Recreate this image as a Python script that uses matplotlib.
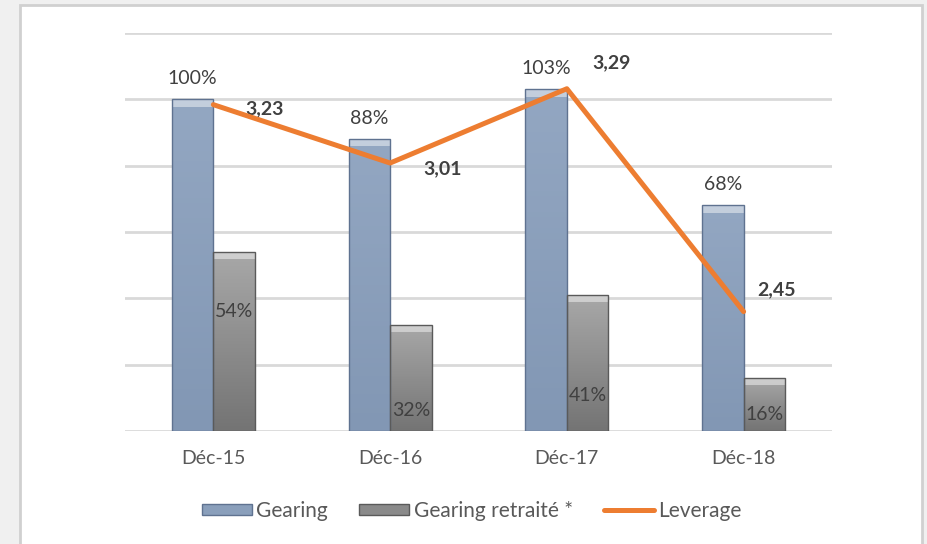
import numpy as np
import matplotlib

matplotlib.use("Agg")
import matplotlib.pyplot as plt
from matplotlib.patches import Rectangle, Patch
from matplotlib.lines import Line2D

plt.rcParams["font.family"] = ["Lato", "DejaVu Sans"]

periods = ["Déc-15", "Déc-16", "Déc-17", "Déc-18"]
gearing = [100, 88, 103, 68]
gearing_retraite = [54, 32, 41, 16]
leverage = [3.23, 3.01, 3.29, 2.45]

# hauteur des étiquettes "retraité" dans la barre (en %)
retraite_label_y = [36, 6.3, 10.8, 5]
# décalage des étiquettes leverage (points)
lev_offsets = [(37, -3), (38, -4), (32, 19), (24, 16)]

TXT = "#404040"
ORANGE = "#ed7d31"


def gradient_bar(ax, patch, top, bottom):
    x0, y0 = patch.get_x(), patch.get_y()
    w, h = patch.get_width(), patch.get_height()
    c1 = np.array(matplotlib.colors.to_rgb(top))
    c2 = np.array(matplotlib.colors.to_rgb(bottom))
    t = np.linspace(0, 1, 64)[:, None]
    img = (c1 * (1 - t) + c2 * t)[:, None, :]
    im = ax.imshow(img, extent=(x0, x0 + w, y0, y0 + h), aspect="auto",
                   origin="upper", zorder=2)
    im.set_clip_path(patch)
    patch.set_facecolor("none")
    # petit biseau clair en haut
    ax.add_patch(Rectangle((x0, y0 + h - 2.2), w, 2.2, facecolor="white",
                           alpha=0.45, edgecolor="none", zorder=3))


fig = plt.figure(figsize=(9.27, 5.44), dpi=100)
fig.patch.set_facecolor("#f0f0f0")
fig.add_artist(Rectangle((0.0216, -0.02), 0.973, 1.0108, transform=fig.transFigure,
                         facecolor="white", edgecolor="#d0d0d0", lw=2, zorder=0))

ax = fig.add_axes([0.1348, 0.2077, 0.7627, 0.7316])
ax.set_facecolor("none")
x = np.arange(len(periods))
w = 0.235

b1 = ax.bar(x - w / 2, gearing, w, edgecolor="#5f7290", lw=1, zorder=4)
b2 = ax.bar(x + w / 2, gearing_retraite, w, edgecolor="#5a5a5a", lw=1, zorder=4)
for p in b1:
    gradient_bar(ax, p, "#93a7c2", "#8297b4")
for p in b2:
    gradient_bar(ax, p, "#a8a8a8", "#747474")

ax.set_ylim(0, 120)
ax.set_xlim(-0.5, len(periods) - 0.5)
ax.set_yticks(np.arange(0, 121, 20))
ax.yaxis.grid(True, color="#d9d9d9", lw=2)
ax.set_axisbelow(True)
ax.set_xticks(x)
ax.set_xticklabels(periods)
for s in ax.spines.values():
    s.set_visible(False)

for i, v in enumerate(gearing):
    ax.annotate(f"{v}%", (x[i] - w / 2, v), xytext=(0, 9), textcoords="offset points",
                ha="center", va="bottom", fontsize=14, color=TXT)
for i, v in enumerate(gearing_retraite):
    ax.text(x[i] + w / 2, retraite_label_y[i], f"{v}%", ha="center", va="center",
            fontsize=14, color=TXT, zorder=6)

ax2 = ax.twinx()
ax2.set_ylim(2.0, 3.5)
ax2.axis("off")
ax2.plot(x, leverage, color=ORANGE, lw=3.6, solid_capstyle="round", zorder=5)
for i, v in enumerate(leverage):
    ax2.annotate(f"{v:.2f}".replace(".", ","), (x[i], v), xytext=lev_offsets[i],
                 textcoords="offset points", ha="center", va="center",
                 fontsize=14, fontweight="bold", color=TXT)

# twinx remet les graduations à gauche : on les coupe après
ax.tick_params(axis="y", left=False, right=False, labelleft=False)
ax.tick_params(axis="x", length=0, pad=14, labelsize=14, labelcolor="#595959")

handles = [
    Patch(facecolor="#8a9fbb", edgecolor="#5f7290"),
    Patch(facecolor="#8a8a8a", edgecolor="#5a5a5a"),
    Line2D([0], [0], color=ORANGE, lw=3.6, solid_capstyle="round"),
]
fig.legend(handles, ["Gearing", "Gearing retraité *", "Leverage"], loc="center",
           bbox_to_anchor=(0.509, 0.061), ncol=3, frameon=False, fontsize=15,
           handlelength=2.4, handleheight=0.45, handletextpad=0.2,
           columnspacing=1.5, labelcolor="#595959")

fig.savefig("out.png", dpi=100)
